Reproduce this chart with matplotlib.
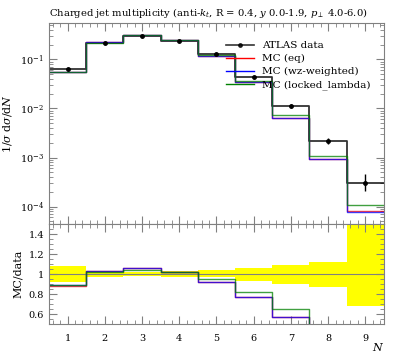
import matplotlib
matplotlib.use("Agg")
import matplotlib.pyplot as plt
import matplotlib.ticker as ticker
from matplotlib.lines import Line2D
import numpy as np

# bin edges and values
edges = [0.5, 1.5, 2.5, 3.5, 4.5, 5.5, 6.5, 7.5, 8.5, 9.5]
centers = [1, 2, 3, 4, 5, 6, 7, 8, 9]
data = [0.063, 0.215, 0.300, 0.239, 0.126, 0.044, 0.0113, 0.00217, 0.000307]
data_err_up = [0.005, 0.0065, 0.006, 0.007, 0.0045, 0.0028, 0.00105, 0.00027, 0.000155]
data_err_dn = [0.005, 0.0065, 0.006, 0.007, 0.0040, 0.0031, 0.00107, 0.00028, 0.000098]
mc_eq = [0.0555, 0.221, 0.318, 0.245, 0.116, 0.0339, 0.0064, 0.00095, 0.000081]
mc_wz = [0.0560, 0.221, 0.318, 0.245, 0.116, 0.0339, 0.0064, 0.00093, 0.000076]
mc_locked = [0.0562, 0.219, 0.312, 0.244, 0.120, 0.0361, 0.0073, 0.00107, 0.000110]

labels = ["MC (eq)", "MC (wz-weighted)", "MC (locked_lambda)"]
colors = ["red", "blue", "green"]
mcs = [mc_eq, mc_wz, mc_locked]

plt.rcParams['font.family'] = 'DejaVu Serif'
plt.rcParams['mathtext.fontset'] = 'dejavuserif'
plt.rcParams['font.size'] = 7

fig = plt.figure(figsize=(3.97, 3.58), dpi=100)
ax = fig.add_axes([0.1234, 0.374, 0.967 - 0.1234, 0.9358 - 0.374])
rax = fig.add_axes([0.1234, 0.095, 0.967 - 0.1234, 0.374 - 0.095], sharex=ax)

d = np.array(data)
def stepvals(v):
    return list(v) + [v[-1]]

# main panel
ax.step(edges, stepvals(data), where='post', color='black', lw=1.3, alpha=0.8)
ax.errorbar(centers, data, yerr=[data_err_dn, data_err_up], fmt='o', color='black',
            ms=2.5, lw=1.0, capsize=0)
for v, c in zip(mcs, colors):
    ax.step(edges, stepvals(v), where='post', color=c, lw=1.0, alpha=0.75)

ax.set_yscale('log')
ax.set_ylim(4.4e-5, 0.55)
ax.set_xlim(0.5, 9.5)
ax.set_ylabel(r'$1/\sigma\;\mathrm{d}\sigma/\mathrm{d}N$', fontsize=8)
ax.set_title(r'Charged jet multiplicity (anti-$k_t$, R = 0.4, $y$ 0.0-1.9, $p_\perp$ 4.0-6.0)',
             loc='left', fontsize=7.2, pad=5)
plt.setp(ax.get_xticklabels(), visible=False)

handles = [Line2D([], [], color='black', marker='o', ms=2.5, lw=1.2, alpha=0.8)]
handles += [Line2D([], [], color=c, lw=1.0) for c in colors]
ax.legend(handles, ["ATLAS data"] + labels, loc='upper left', bbox_to_anchor=(0.53, 0.91),
          frameon=False, fontsize=7.5, handlelength=2.6, handletextpad=0.8,
          labelspacing=0.35, borderaxespad=0.0, borderpad=0.0)

# ratio panel
band_up = stepvals(1 + np.array(data_err_up) / d)
band_dn = stepvals(1 - np.array(data_err_dn) / d)
rax.fill_between(edges, band_dn, band_up, step='post', color='yellow', lw=0)
rax.axhline(1.0, color='gray', lw=0.8)
for v, c in zip(mcs, colors):
    rax.step(edges, stepvals(np.array(v) / d), where='post', color=c, lw=1.0, alpha=0.75)
rax.set_ylim(0.5, 1.5)
rax.set_ylabel('MC/data', fontsize=8)
rax.set_xlabel(r'$N$', fontsize=8, loc='right', labelpad=-1)
rax.xaxis.set_major_locator(ticker.FixedLocator(centers))
rax.xaxis.set_minor_locator(ticker.MultipleLocator(0.2))
rax.yaxis.set_major_locator(ticker.FixedLocator([0.6, 0.8, 1.0, 1.2, 1.4]))
rax.yaxis.set_major_formatter(ticker.FixedFormatter(['0.6', '0.8', '1', '1.2', '1.4']))
rax.yaxis.set_minor_locator(ticker.MultipleLocator(0.05))

for a in (ax, rax):
    a.tick_params(which='both', direction='in', top=True, right=True, color='gray')
    a.tick_params(which='major', length=6)
    a.tick_params(which='minor', length=3)
    for s in a.spines.values():
        s.set_color('gray')
rax.tick_params(axis='x', pad=7)

plt.savefig("out.png", dpi=100)
